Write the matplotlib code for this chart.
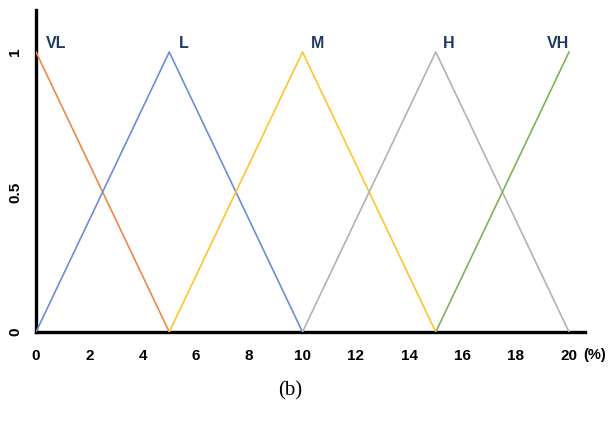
import matplotlib.pyplot as plt

# membership functions (x in %, membership 0..1)
names = ['VL', 'L', 'M', 'H', 'VH']
xs = [[0, 5], [0, 5, 10], [5, 10, 15], [10, 15, 20], [15, 20]]
ys = [[1, 0], [0, 1, 0], [0, 1, 0], [0, 1, 0], [0, 1]]
colors = ['#F0874A', '#6A8FD4', '#FFC42A', '#B2B2B2', '#7CB455']
label_x = [0.75, 5.55, 10.55, 15.5, 19.6]
xticks = [0, 2, 4, 6, 8, 10, 12, 14, 16, 18, 20]
yticks = [0, 0.5, 1]
ytick_labels = ['0', '0.5', '1']

fnt = 'Liberation Sans'
fig = plt.figure(figsize=(6.08, 4.34), dpi=100)
ax = fig.add_axes([36/608, 1 - 332/434, 1 - 36/608 - 23/608, (332 - 10)/434])

for i in range(len(names)):
    ax.plot(xs[i], ys[i], color=colors[i], lw=1.2)
    ax.text(label_x[i], 1.03, names[i], color='#1F3864', fontsize=11.5,
            fontweight='bold', family=fnt, ha='center', va='center')

ax.set_xlim(0, 20.6)
ax.set_ylim(0, 1.15)
for s in ['top', 'right']:
    ax.spines[s].set_visible(False)
for s in ['left', 'bottom']:
    ax.spines[s].set_linewidth(2.4)
    ax.spines[s].set_zorder(0)

ax.set_xticks(xticks)
ax.set_xticklabels([str(t) for t in xticks], fontweight='bold', fontsize=11,
                   family=fnt)
ax.set_yticks(yticks)
ax.set_yticklabels(ytick_labels, fontweight='bold', fontsize=11, rotation=90,
                   va='center', family=fnt)
ax.tick_params(axis='x', length=0, pad=12)
ax.tick_params(axis='y', length=0, pad=10)

fig.text(606/608, 1 - 355/434, '(%)', fontsize=10.5, fontweight='bold',
         family=fnt, ha='right', va='center')
fig.text(290/608, 1 - 391/434, '(b)', fontsize=15, family='Liberation Serif',
         ha='center', va='center')

plt.savefig('out.png', dpi=100)
